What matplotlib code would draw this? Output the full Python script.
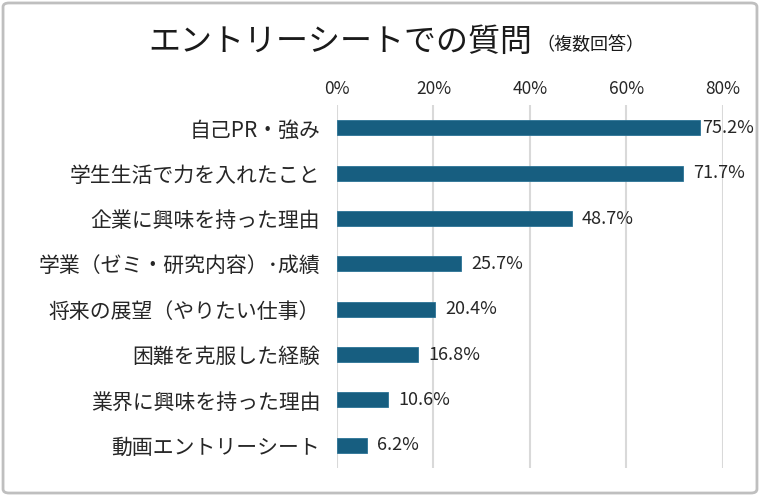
import matplotlib.pyplot as plt
from matplotlib.patches import FancyBboxPatch

plt.rcParams['font.family'] = ['Noto Sans CJK JP', 'DejaVu Sans']

# データ
categories = ['自己PR・強み', '学生生活で力を入れたこと', '企業に興味を持った理由',
              '学業（ゼミ・研究内容）･成績', '将来の展望（やりたい仕事）',
              '困難を克服した経験', '業界に興味を持った理由', '動画エントリーシート']
values = [75.2, 71.7, 48.7, 25.7, 20.4, 16.8, 10.6, 6.2]
ticks = [0, 20, 40, 60, 80]
tick_labels = ['0%', '20%', '40%', '60%', '80%']

fig = plt.figure(figsize=(7.6, 4.96), dpi=100)
ax = fig.add_axes([0.4434, 0.0565, 0.9513 - 0.4434, 0.788 - 0.0565])

y = list(range(len(categories)))
ax.barh(y, values, height=0.33, color='#175e80', edgecolor='#2b7396', linewidth=0.6, zorder=3)
ax.set_ylim(len(categories) - 0.5, -0.5)
ax.set_xlim(0, 80)

ax.set_yticks(y)
ax.set_yticklabels(categories, fontsize=15, color='#262626')
ax.set_xticks(ticks)
ax.set_xticklabels(tick_labels, fontsize=12.5, color='#262626')
ax.xaxis.tick_top()
ax.tick_params(axis='both', length=0)
ax.tick_params(axis='y', pad=12)
ax.tick_params(axis='x', pad=5)
ax.grid(axis='x', color='#d9d9d9', linewidth=1.5, zorder=0)
for s in ax.spines.values():
    s.set_visible(False)

for i, v in enumerate(values):
    off = 2 if v > 73 else 10
    ax.annotate(f'{v:.1f}%', (v, i), xytext=(off, 0), textcoords='offset pixels',
                ha='left', va='center', fontsize=13, color='#262626')

# タイトル
t = fig.text(148 / 760, 1 - 42 / 496, 'エントリーシートでの質問', fontsize=23,
             ha='left', va='center', color='#1a1a1a')
fig.canvas.draw()
bb = t.get_window_extent()
fig.text((bb.x1 + 4) / 760, 1 - 45 / 496, '（複数回答）', fontsize=13,
         ha='left', va='center', color='#1a1a1a')

# 枠線
border = FancyBboxPatch((0.004, 0.006), 0.992, 0.988, boxstyle='round,pad=0,rounding_size=0.008',
                        transform=fig.transFigure, fill=False, edgecolor='#bfbfbf', linewidth=2)
fig.patches.append(border)

fig.savefig('out.png', dpi=100)
